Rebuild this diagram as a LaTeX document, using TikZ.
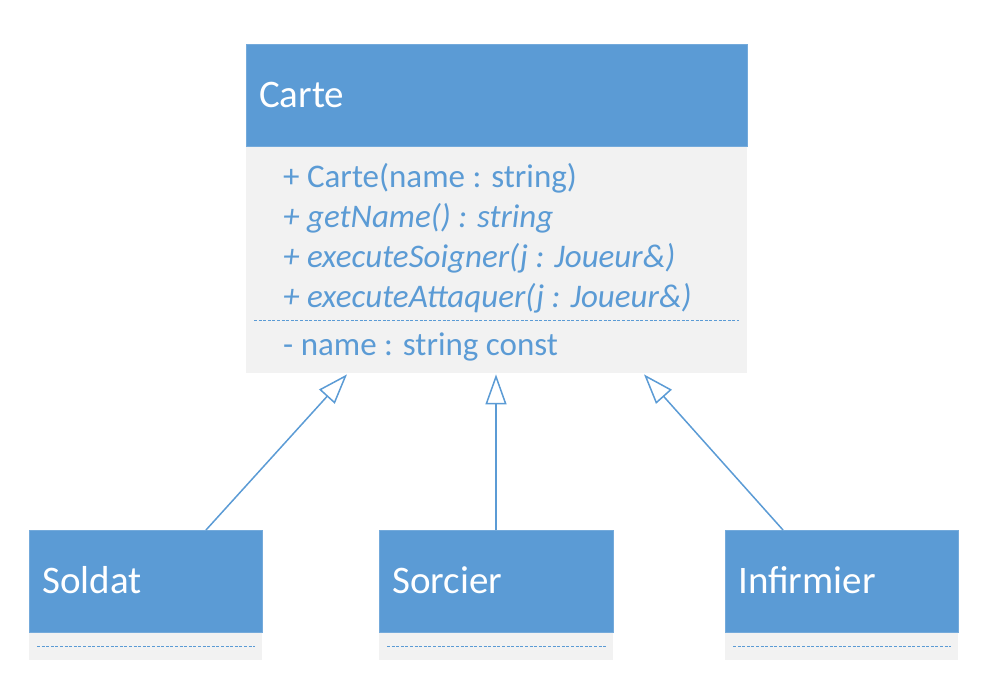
\documentclass[tikz,border=0pt]{standalone}
\usepackage{fontspec}
\setmainfont{Carlito}
\usetikzlibrary{arrows.meta}
\definecolor{umlblue}{HTML}{5B9BD5}
\definecolor{umlgray}{HTML}{F2F2F2}
\tikzset{
  hdr/.style={fill=umlblue, draw=umlblue!85!white, line width=0.6pt, anchor=north west, inner sep=0pt},
  bodybox/.style={fill=umlgray, draw=none, anchor=north west, inner sep=0pt},
  title/.style={anchor=base west, inner sep=0pt, text=white, font=\fontsize{39}{47}\selectfont},
  member/.style={anchor=base west, inner sep=0pt, text=umlblue, font=\fontsize{33}{40}\selectfont},
  sep/.style={draw=umlblue, line width=0.9pt, dash pattern=on 3pt off 1.6pt},
  inh/.style={draw=umlblue, line width=1.5pt, -{Triangle[open, length=30pt, width=21pt, fill=white]}},
}
\begin{document}
\begin{tikzpicture}[x=1pt, y=-1pt]
\useasboundingbox (0,0) rectangle (994,688);
% Carte
\node[hdr, minimum width=501pt, minimum height=102pt] (carteh) at (246,44) {};
\node[bodybox, minimum width=501pt, minimum height=226pt] (carteb) at (246,147) {};
\node[title] (cartet) at (259,107) {Carte};
\node[member] (m1) at (283,187) {+ Carte(name : string)};
\node[member] (m2) at (283,227) {\itshape + getName() : string};
\node[member] (m3) at (283,267) {\itshape + executeSoigner(j : Joueur\&)};
\node[member] (m4) at (283,307) {\itshape + executeAttaquer(j : Joueur\&)};
\node[member] (a1) at (283,355) {- name : string const};
\draw[sep] ([xshift=8pt, yshift=-173.5pt]carteb.north west) -- ([xshift=-8pt, yshift=-173.5pt]carteb.north east);
% Soldat
\node[hdr, minimum width=233pt, minimum height=102pt] (soldath) at (29,530) {};
\node[bodybox, minimum width=233pt, minimum height=27pt] (soldatb) at (29,633) {};
\node[title] (soldatt) at (42,593) {Soldat};
\draw[sep] ([xshift=8pt]soldatb.west) -- ([xshift=-7pt]soldatb.east);
% Sorcier
\node[hdr, minimum width=234pt, minimum height=102pt] (sorcierh) at (379,530) {};
\node[bodybox, minimum width=234pt, minimum height=27pt] (sorcierb) at (379,633) {};
\node[title] (sorciert) at (392,593) {Sorcier};
\draw[sep] ([xshift=8pt]sorcierb.west) -- ([xshift=-7pt]sorcierb.east);
% Infirmier
\node[hdr, minimum width=233pt, minimum height=102pt] (infh) at (725,530) {};
\node[bodybox, minimum width=233pt, minimum height=27pt] (infb) at (725,633) {};
\node[title] (inft) at (738,593) {Infirmier};
\draw[sep] ([xshift=8pt]infb.west) -- ([xshift=-7pt]infb.east);
% inheritance
\draw[inh] ([xshift=177pt]soldath.north west) -- ([xshift=101pt, yshift=-1pt]carteb.south west);
\draw[inh] ([xshift=117pt]sorcierh.north west) -- ([xshift=250pt, yshift=-1pt]carteb.south west);
\draw[inh] ([xshift=58pt]infh.north west) -- ([xshift=398pt, yshift=-1pt]carteb.south west);
\end{tikzpicture}
\end{document}
